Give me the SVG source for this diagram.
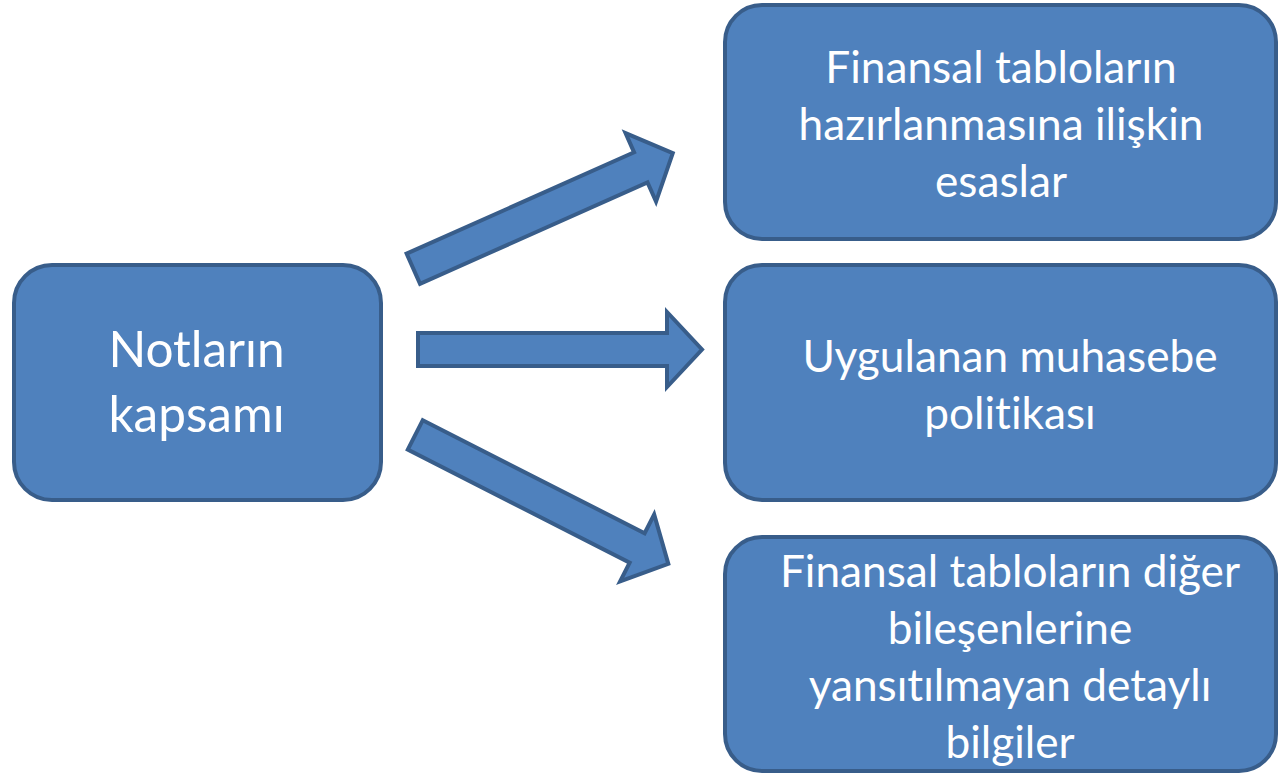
<svg xmlns="http://www.w3.org/2000/svg" width="1278" height="775" viewBox="0 0 1278 775">
<style>
.box{fill:#4F81BD;stroke:#385D8A;stroke-width:4}
.arr{fill:#4F81BD;stroke:#385D8A;stroke-width:4;stroke-linejoin:miter}
.t{fill:#FFFFFF;font-family:Lato,"Open Sans",sans-serif;text-anchor:middle;font-variant-ligatures:none;font-feature-settings:"liga" 0}
.tr{font-size:44.2px}
.tl{font-size:49.5px}
</style>
<defs>
<path id="arrowShape" d="M2,-16.5 H251 V-37.5 L286,0 L251,37.5 V16.5 H2 Z"/>
</defs>
<g id="connectors">
<use href="#arrowShape" class="arr" transform="translate(411.5,269.5) rotate(-24)"/>
<use href="#arrowShape" class="arr" transform="translate(416,349.5)"/>
<use href="#arrowShape" class="arr" transform="translate(413.5,434) rotate(27)"/>
</g>
<g id="node-notlar">
<rect class="box" x="14" y="265" width="367" height="235" rx="38" ry="38"/>
<text class="t tl" x="196.5" y="367">Notların</text>
<text class="t tl" x="196.5" y="432">kapsamı</text>
</g>
<g id="node-esaslar">
<rect class="box" x="725" y="5" width="551" height="234" rx="37" ry="37"/>
<text class="t tr" x="1001" y="83">Finansal tabloların</text>
<text class="t tr" x="1001" y="140">hazırlanmasına ilişkin</text>
<text class="t tr" x="1001" y="197">esaslar</text>
</g>
<g id="node-politika">
<rect class="box" x="725" y="265" width="551" height="235" rx="37" ry="37"/>
<text class="t tr" x="1010" y="372">Uygulanan muhasebe</text>
<text class="t tr" x="1010" y="429">politikası</text>
</g>
<g id="node-detay">
<rect class="box" x="725" y="537" width="551" height="234" rx="37" ry="37"/>
<text class="t tr" x="1010" y="587">Finansal tabloların diğer</text>
<text class="t tr" x="1010" y="644">bileşenlerine</text>
<text class="t tr" x="1010" y="701">yansıtılmayan detaylı</text>
<text class="t tr" x="1010" y="758">bilgiler</text>
</g>
</svg>
